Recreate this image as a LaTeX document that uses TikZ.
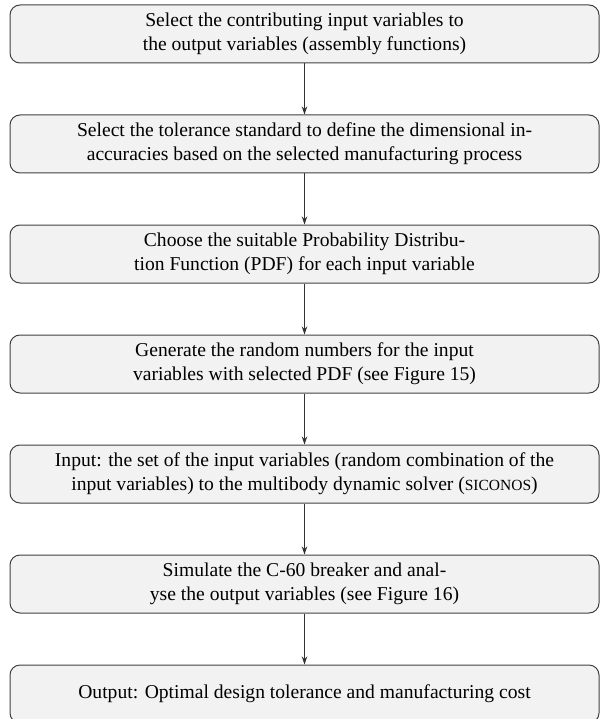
\documentclass[tikz,border=0pt]{standalone}
\usepackage{fontspec}
\setmainfont{Liberation Serif}
\usetikzlibrary{arrows.meta}
\tikzset{
  stepbox/.style={draw=black!75, line width=1pt, fill=black!5, rounded corners=10pt,
    minimum width=589pt, minimum height=58pt, align=center, inner sep=0pt,
    font=\fontsize{19.6}{24}\selectfont},
  flow/.style={draw=black!80, line width=0.9pt, -{Stealth[length=8pt,width=5.5pt]}}
}
\newcommand{\fakesc}[1]{{\fontsize{15.5}{18}\selectfont #1}}
\begin{document}
\begin{tikzpicture}[x=1pt,y=1pt]
\useasboundingbox (0,0) rectangle (600,-719);
\node[stepbox] (b1) at (304.5,-34) {Select the contributing input variables to\\the output variables (assembly functions)};
\node[stepbox] (b2) at (304.5,-144) {Select the tolerance standard to define the dimensional in-\\accuracies based on the selected manufacturing process};
\node[stepbox] (b3) at (304.5,-254) {Choose the suitable Probability Distribu-\\tion Function (PDF) for each input variable};
\node[stepbox] (b4) at (304.5,-364) {Generate the random numbers for the input\\variables with selected PDF (see Figure 15)};
\node[stepbox] (b5) at (304.5,-474) {Input: the set of the input variables (random combination of the\\input variables) to the multibody dynamic solver (\fakesc{SICONOS})};
\node[stepbox] (b6) at (304.5,-584) {Simulate the C-60 breaker and anal-\\yse the output variables (see Figure 16)};
\node[stepbox] (b7) at (304.5,-694) {Output: Optimal design tolerance and manufacturing cost};
\draw[flow] (b1) -- (b2);
\draw[flow] (b2) -- (b3);
\draw[flow] (b3) -- (b4);
\draw[flow] (b4) -- (b5);
\draw[flow] (b5) -- (b6);
\draw[flow] (b6) -- (b7);
\end{tikzpicture}
\end{document}
